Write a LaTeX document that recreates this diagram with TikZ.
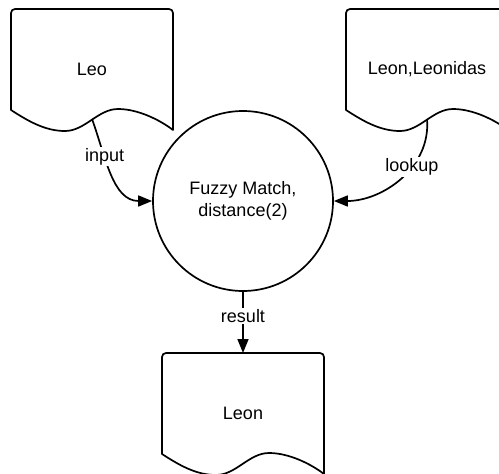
\documentclass[tikz,border=0pt]{standalone}
\usepackage{fontspec}
\setmainfont{Liberation Sans}
\usetikzlibrary{arrows.meta}
\begin{document}
\begin{tikzpicture}[x=1pt,y=-1pt,
  lbl/.style={font=\fontsize{18}{22}\selectfont},
  docline/.style={line width=1.7pt, line join=round},
  flow/.style={line width=1.7pt, -{Triangle[length=14pt,width=11pt]}},
  tag/.style={lbl, fill=white, inner sep=1.5pt},
  pics/docshape/.style={code={
    % document symbol: flat top with rounded corners, wavy bottom edge
    \draw[docline] (0,101) [rounded corners=4pt] -- (0,0) -- (162,0)
      [sharp corners] -- (162,121)
      .. controls (149,111) and (127,100) .. (107,100)
      .. controls (87,100) and (74,122) .. (54,122)
      .. controls (34,122) and (17,112) .. (0,101) -- cycle;
    \node[lbl] (-text) at (81,60) {#1};
    \coordinate (-port) at (81,110);
    \coordinate (-top) at (81,0);
  }}]
\useasboundingbox (0,0) rectangle (499,474);
\clip (0,0) rectangle (499,474);

\pic (leo) at (11,9) {docshape=Leo};
\pic (names) at (346,9) {docshape={Leon,Leonidas}};
\pic (found) at (162,353) {docshape=Leon};

\node[draw, circle, line width=1.7pt, minimum size=180pt, align=center, lbl]
  (match) at (243,201) {Fuzzy Match,\\distance(2)};

\draw[flow] (leo-port) to[out=-70,in=180] node[tag,pos=0.33]{input} (match.west);
\draw[flow] (names-port) to[out=-85,in=0] node[tag,pos=0.38]{lookup} (match.east);
\draw[flow] (match.south) -- node[tag,pos=0.4]{result} (found-top);
\end{tikzpicture}
\end{document}
